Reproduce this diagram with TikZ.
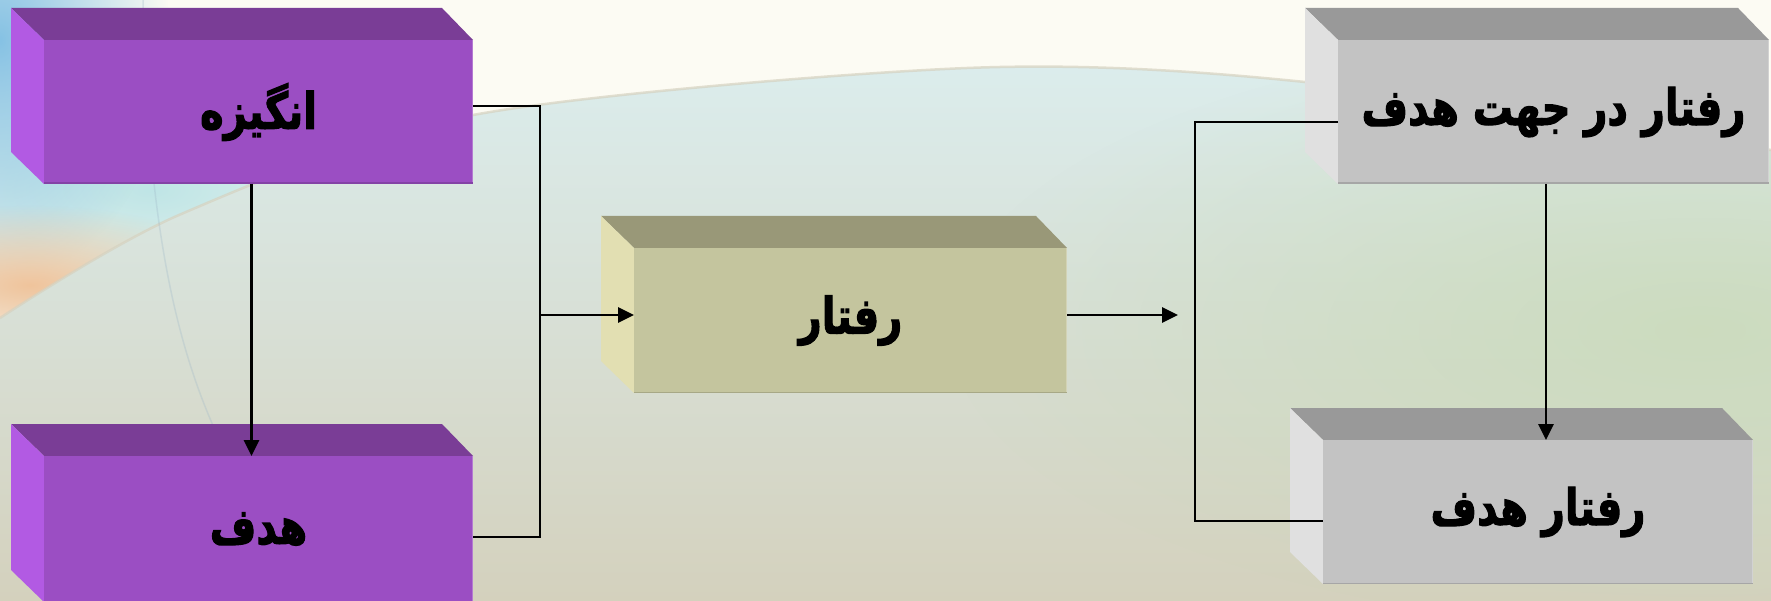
\documentclass[tikz,border=0pt]{standalone}
\usepackage{fontspec}
\usetikzlibrary{arrows.meta,fadings,calc}
\newfontfamily\arabicfont[Script=Arabic, BoldFeatures={FakeBold=2.5}]{DejaVu Sans}
\TeXXeTstate=1
\definecolor{pfront}{HTML}{9B4EC3}
\definecolor{ptop}{HTML}{7A3D96}
\definecolor{pside}{HTML}{B25AE3}
\definecolor{kfront}{HTML}{C4C59E}
\definecolor{ktop}{HTML}{999878}
\definecolor{kside}{HTML}{E2DFB2}
\definecolor{gfront}{HTML}{C3C3C3}
\definecolor{gtop}{HTML}{999999}
\definecolor{gside}{HTML}{E0E0E0}
\definecolor{bgA}{HTML}{DCF0F2}
\definecolor{bgB}{HTML}{DCE8DF}
\definecolor{bgC}{HTML}{D4D1BD}
\definecolor{gtint}{HTML}{C9DBB9}
\definecolor{cream}{HTML}{FCFBF3}
\definecolor{blueA}{HTML}{86C2E4}
\definecolor{tealA}{HTML}{BFE5E6}
\definecolor{peachA}{HTML}{F0C49C}
\definecolor{arcline}{HTML}{D6D2C0}
\definecolor{merid}{HTML}{9FB8C8}
\tikzfading[name=softblob, inner color=transparent!0, outer color=transparent!100]
\tikzset{
  facebox/.style={rectangle, inner sep=0pt, outer sep=0pt, text=black,
    font=\arabicfont\bfseries\fontsize{40}{48}\selectfont},
  conn/.style={draw=black, line width=2.8pt},
  arr/.style={conn, -{Triangle[length=16pt,width=15pt]}},
}
% #1 name, #2 x1, #3 y1, #4 x2, #5 y2, #6 front, #7 top, #8 side, #9 text
\newcommand\cuboid[9]{%
  \fill[#7] (#2-33,#3-32) -- (#4-31,#3-32) -- (#4,#3) -- (#2,#3) -- cycle;
  \fill[#8] (#2-33,#3-32) -- (#2,#3) -- (#2,#5) -- (#2-33,#5-32) -- cycle;
  \node[facebox, fill=#6, minimum width={(#4-#2)*1pt}, minimum height={(#5-#3)*1pt}]
    (#1) at ({(#2+#4)/2},{(#3+#5)/2}) {\scalebox{1}[1.25]{#9}};
  \draw[#6!75!white, line width=1.5pt] (#4-0.75,#3) -- (#4-0.75,#5);
  \draw[#6!85!black, line width=1.5pt] (#2,#5-0.75) -- (#4,#5-0.75);
}
\begin{document}
\begin{tikzpicture}[x=1pt,y=-1pt]
\useasboundingbox (0,0) rectangle (1771,601);
% background
\shade[top color=bgA, middle color=bgB, bottom color=bgC] (0,0) rectangle (1771,601);
\fill[gtint, path fading=softblob, fill opacity=0.8] (1700,330) ellipse (750 and 300);
\fill[cream] (0,0) -- (1771,0) -- plot[smooth] coordinates {(1771,150) (1305,82) (967,68) (473,115) (179,215) (0,318)} -- cycle;
\begin{scope}
  \clip (0,0) -- (1771,0) -- plot[smooth] coordinates {(1771,150) (1305,82) (967,68) (473,115) (179,215) (0,318)} -- cycle;
  \fill[tealA, path fading=softblob] (150,190) ellipse (380 and 150);
  \fill[blueA, path fading=softblob] (0,40) ellipse (170 and 240);
  \fill[peachA, path fading=softblob] (30,285) ellipse (220 and 80);
\end{scope}
\draw[arcline, line width=2.5pt, opacity=0.7] plot[smooth] coordinates {(1771,150) (1305,82) (967,68) (473,115) (179,215) (0,318)};
\draw[merid, opacity=0.3, line width=1.5pt] (143,0) .. controls (147,200) and (170,330) .. (215,430);
% boxes
\cuboid{A}{44}{40}{473}{184}{pfront}{ptop}{pside}{\beginR انگیزه\endR}
\cuboid{B}{44}{456}{473}{602}{pfront}{ptop}{pside}{\beginR هدف\endR}
\cuboid{C}{634}{248}{1067}{393}{kfront}{ktop}{kside}{\beginR رفتار\endR}
\cuboid{D}{1338}{40}{1769}{184}{gfront}{gtop}{gside}{\beginR رفتار در جهت هدف\endR}
\cuboid{E}{1323}{440}{1753}{584}{gfront}{gtop}{gside}{\beginR رفتار هدف\endR}
% connectors
\coordinate (j1) at (540,315);
\coordinate (j2) at (1195,315);
\coordinate (k1) at (1178,315);
\draw[arr] ([xshift=-7pt]A.south) -- ([xshift=-7pt]B.north);
\draw[conn] ([yshift=6pt]A.east) -| (j1) |- ([yshift=-8pt]B.east);
\draw[arr] (j1) -- (C.west |- j1);
\draw[arr] (C.east |- k1) -- (k1);
\draw[conn] ([yshift=-10pt]D.west) -| (j2) |- ([yshift=-9pt]E.west);
\draw[arr] ([xshift=-7.5pt]D.south) -- ([xshift=-7.5pt]D.south |- E.north);
\end{tikzpicture}
\end{document}
